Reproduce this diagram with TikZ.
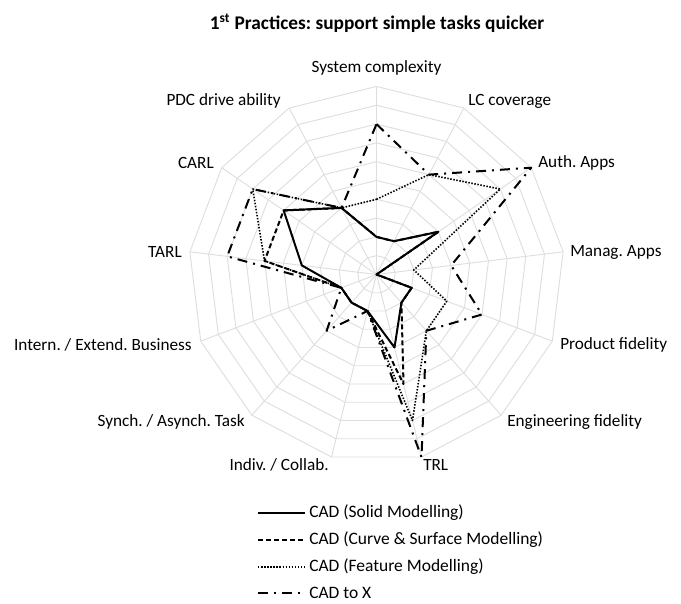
\documentclass[tikz,border=0pt]{standalone}
\usepackage{fontspec}
\setmainfont{Carlito}
\usepackage{tikz}
\frenchspacing

\begin{document}
\begin{tikzpicture}[x=0.75pt,y=0.75pt,
		gridline/.style={draw=black!13,line width=0.7pt},
		axlabel/.style={font=\fontsize{12.9}{14}\selectfont,inner sep=0pt},
		legtext/.style={font=\fontsize{13.1}{15}\selectfont,inner sep=0pt,anchor=west},
		sersolid/.style={line width=1.5pt,line join=round},
		serdashed/.style={line width=1.5pt,line join=round,dash pattern=on 3.75pt off 2.25pt},
		serdotted/.style={line width=1.2pt,line join=round,dash pattern=on 1.1pt off 1.2pt},
		serdashdot/.style={line width=1.5pt,line join=round,dash pattern=on 7.5pt off 4.5pt on 1.5pt off 4.5pt}]
	\useasboundingbox (0,0) rectangle (681,603);
	% title
	\node[font=\fontsize{14.5}{16}\bfseries\selectfont,inner sep=0pt] (title) at (377,580) {1\textsuperscript{st} Practices: support simple tasks quicker};
	% radar web
	\begin{scope}[shift={(376.5,328.5)}]
		\foreach \r in {1,...,10}
			\draw[gridline] (90:\r*18.8) \foreach \k in {1,...,12}{ -- ({90-\k*360/13}:\r*18.8)} -- cycle;
		\foreach \k in {0,...,12}
			\draw[gridline] (0,0) -- ({90-\k*360/13}:188);
		% series values, axis 0 = System complexity, clockwise
		\foreach \v [count=\k from 0] in {2,2,4,0,2,2,4,2,2,2,4,6,4}
			\coordinate (sol\k) at ({90-\k*360/13}:{\v*18.8});
		\foreach \v [count=\k from 0] in {2,2,4,0,2,2,6,2,2,2,6,6,4}
			\coordinate (cur\k) at ({90-\k*360/13}:{\v*18.8});
		\foreach \v [count=\k from 0] in {4,6,8,2,4,4,8,2,2,2,6,8,4}
			\coordinate (fea\k) at ({90-\k*360/13}:{\v*18.8});
		\foreach \v [count=\k from 0] in {8,6,10,4,6,4,10,2,4,2,8,8,4}
			\coordinate (cx\k) at ({90-\k*360/13}:{\v*18.8});
		\draw[sersolid] (sol0) \foreach \k in {1,...,12}{ -- (sol\k)} -- cycle;
		\draw[serdashed] (cur0) \foreach \k in {1,...,12}{ -- (cur\k)} -- cycle;
		\draw[serdotted] (fea0) \foreach \k in {1,...,12}{ -- (fea\k)} -- cycle;
		\draw[serdashdot] (cx0) \foreach \k in {1,...,12}{ -- (cx\k)} -- cycle;
	\end{scope}
	% axis labels
	\node[axlabel] (lab0) at (376.5,535) {System complexity};
	\node[axlabel,anchor=west] (lab1) at (468,502) {LC coverage};
	\node[axlabel,anchor=west] (lab2) at (538,440) {Auth. Apps};
	\node[axlabel,anchor=west] (lab3) at (570,351) {Manag. Apps};
	\node[axlabel,anchor=west] (lab4) at (560,258) {Product fidelity};
	\node[axlabel,anchor=west] (lab5) at (507,181) {Engineering fidelity};
	\node[axlabel,anchor=west] (lab6) at (423,138) {TRL};
	\node[axlabel,anchor=east] (lab7) at (329,138) {Indiv. / Collab.};
	\node[axlabel,anchor=east] (lab8) at (245,181) {Synch. / Asynch. Task};
	\node[axlabel,anchor=east] (lab9) at (192,258) {Intern. / Extend. Business};
	\node[axlabel,anchor=east] (lab10) at (182,351) {TARL};
	\node[axlabel,anchor=east] (lab11) at (214,440) {CARL};
	\node[axlabel,anchor=east] (lab12) at (281,502) {PDC drive ability};
	% legend
	\node[legtext] (leg1) at (309,90) {CAD (Solid Modelling)};
	\node[legtext] (leg2) at (309,63) {CAD (Curve \& Surface Modelling)};
	\node[legtext] (leg3) at (309,36) {CAD (Feature Modelling)};
	\node[legtext] (leg4) at (309,10) {CAD to X};
	\coordinate (leg1s) at (258,90);
	\coordinate (leg2s) at (258,63);
	\coordinate (leg3s) at (258,36);
	\coordinate (leg4s) at (258,10);
	\draw[sersolid] (leg1s) -- ([xshift=-3]leg1.west);
	\draw[serdashed] (leg2s) -- ([xshift=-3]leg2.west);
	\draw[serdotted] (leg3s) -- ([xshift=-3]leg3.west);
	\draw[serdashdot] (leg4s) -- ([xshift=-3]leg4.west);
\end{tikzpicture}
\end{document}
